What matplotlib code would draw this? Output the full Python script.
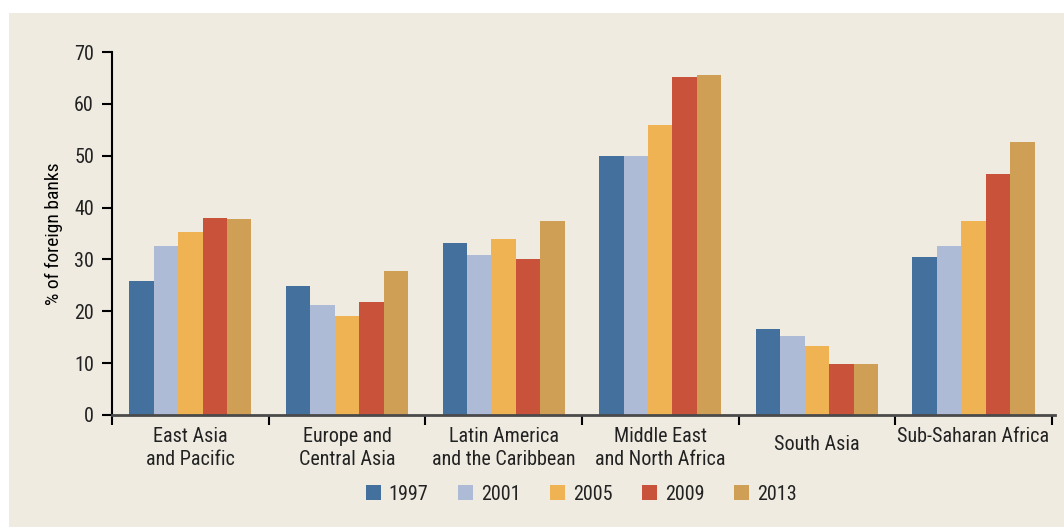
import numpy as np
import matplotlib; matplotlib.use('Agg')
import matplotlib.pyplot as plt
from matplotlib.patches import Rectangle

regions = ['East Asia\nand Pacific', 'Europe and\nCentral Asia', 'Latin America\nand the Caribbean',
           'Middle East\nand North Africa', 'South Asia', 'Sub-Saharan Africa']
years = ['1997', '2001', '2005', '2009', '2013']
v1997 = [25.8, 24.9, 33.2, 50.0, 16.6, 30.5]
v2001 = [32.6, 21.2, 30.9, 50.0, 15.2, 32.6]
v2005 = [35.3, 19.1, 33.9, 55.9, 13.3, 37.4]
v2009 = [38.0, 21.8, 30.1, 65.2, 9.8, 46.5]
v2013 = [37.8, 27.8, 37.4, 65.6, 9.8, 52.6]
colors = ['#44709d', '#adbbd6', '#efb354', '#c8523a', '#cf9f55']

plt.rcParams['font.family'] = ['Roboto Condensed', 'DejaVu Sans']
plt.rcParams['text.color'] = '#222222'

bg = '#efebe1'
fig = plt.figure(figsize=(10.64, 5.27), dpi=100, facecolor='white')
fig.add_artist(Rectangle((9/1064, 0), 1, (527-13)/527, transform=fig.transFigure,
                         facecolor=bg, edgecolor='none', zorder=-10))
ax = fig.add_axes([112/1064, 112/527, 943/1064, 363/527])
ax.set_facecolor(bg)

x = np.arange(len(regions))
w = 0.156
for i, (vals, yr) in enumerate(zip([v1997, v2001, v2005, v2009, v2013], years)):
    ax.bar(x + (i - 2) * w, vals, w, color=colors[i], label=yr, zorder=2)

ax.set_xlim(-0.5, 5.52)
ax.set_ylim(0, 70)
ax.set_yticks(range(0, 71, 10))
ax.tick_params(axis='y', length=7, width=1.5, labelsize=14.5, pad=6, color='black', labelcolor='#222222')
ax.set_xticks(np.arange(-0.5, 6, 1))
ax.set_xticklabels([])
ax.tick_params(axis='x', length=7, width=1.5, color='black')
for s in ['top', 'right']:
    ax.spines[s].set_visible(False)
ax.spines['left'].set_linewidth(1.5)
ax.spines['left'].set_color('black')
ax.spines['bottom'].set_linewidth(2)
ax.spines['bottom'].set_color('#4a4a4a')

label_y = [-0.033, -0.033, -0.033, -0.033, -0.055, -0.033]
for xi, lab, ly in zip(x, regions, label_y):
    ax.text(xi, ly, lab, transform=ax.get_xaxis_transform(), ha='center', va='top',
            fontsize=14.5, linespacing=1.25)

ax.set_ylabel('% of foreign banks', fontsize=14, labelpad=8)

fig.legend(loc='center', bbox_to_anchor=(581/1064, 1 - 494/527), ncol=5, frameon=False,
           fontsize=14.5, handlelength=0.75, handleheight=0.75, columnspacing=1.45, handletextpad=0.4)

fig.savefig('out.png', dpi=100, facecolor='white')
